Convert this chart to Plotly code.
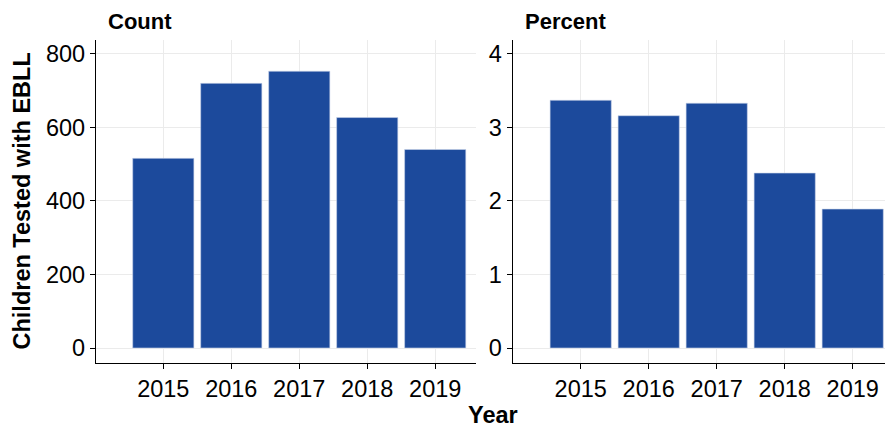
import plotly.graph_objects as go

years = ["2015", "2016", "2017", "2018", "2019"]
count_values = [516, 720, 753, 627, 540]
percent_values = [3.37, 3.16, 3.33, 2.38, 1.89]
count_ticks = [0, 200, 400, 600, 800]
percent_ticks = [0, 1, 2, 3, 4]

W, H = 885, 428
bar_color = "#1c4a9c"
font_family = "Liberation Sans, Arial, sans-serif"

fig = go.Figure()
fig.add_trace(go.Bar(x=years, y=count_values, xaxis="x", yaxis="y",
                     marker=dict(color=bar_color, line=dict(color="#c9d4ea", width=0.6)),
                     width=0.9, showlegend=False))
fig.add_trace(go.Bar(x=years, y=percent_values, xaxis="x2", yaxis="y2",
                     marker=dict(color=bar_color, line=dict(color="#c9d4ea", width=0.6)),
                     width=0.9, showlegend=False))

def px_x(p):
    return p / W

def px_y(p):
    return 1 - p / H

tick_size = 23.5
common_x = dict(type="category", showline=True, linecolor="black", linewidth=1.3,
                ticks="outside", ticklen=5, tickcolor="black", tickwidth=1.3,
                showgrid=True, gridcolor="#ebebeb", gridwidth=1.2, zeroline=False,
                tickfont=dict(size=tick_size, color="black", family=font_family))
common_y = dict(showline=True, linecolor="black", linewidth=1.3,
                ticks="outside", ticklen=5, tickcolor="black", tickwidth=1.3,
                showgrid=True, gridcolor="#ebebeb", gridwidth=1.2, zeroline=False,
                tickfont=dict(size=tick_size, color="black", family=font_family))

ydom = [px_y(363), px_y(40)]
fig.update_layout(
    width=W, height=H,
    margin=dict(l=0, r=0, t=0, b=0),
    plot_bgcolor="white", paper_bgcolor="white",
    bargap=0.1,
    xaxis=dict(domain=[px_x(96), px_x(476)], range=[-0.99, 4.6], anchor="y", **common_x),
    yaxis=dict(domain=ydom, range=[-40.8, 838], tickvals=count_ticks, anchor="x", **common_y),
    xaxis2=dict(domain=[px_x(512.7), 1.0], range=[-1.0, 4.475], anchor="y2", **common_x),
    yaxis2=dict(domain=ydom, range=[-0.204, 4.19], tickvals=percent_ticks, anchor="x2", **common_y),
    annotations=[
        dict(text="<b>Count</b>", x=px_x(106), y=px_y(21), xref="paper", yref="paper",
             xanchor="left", yanchor="middle", showarrow=False,
             font=dict(size=22, color="black", family=font_family)),
        dict(text="<b>Percent</b>", x=px_x(522.7), y=px_y(21), xref="paper", yref="paper",
             xanchor="left", yanchor="middle", showarrow=False,
             font=dict(size=22, color="black", family=font_family)),
        dict(text="<b>Children Tested with EBLL</b>", x=px_x(22), y=px_y(201.5), xref="paper", yref="paper",
             xanchor="center", yanchor="middle", textangle=-90, showarrow=False,
             font=dict(size=23.5, color="black", family=font_family)),
        dict(text="<b>Year</b>", x=px_x(493), y=px_y(414.5), xref="paper", yref="paper",
             xanchor="center", yanchor="middle", showarrow=False,
             font=dict(size=23.5, color="black", family=font_family)),
    ],
)

fig.write_html("out.html", config={"displayModeBar": False},
               post_script="document.body.style.margin='0';document.body.style.overflow='hidden';")
